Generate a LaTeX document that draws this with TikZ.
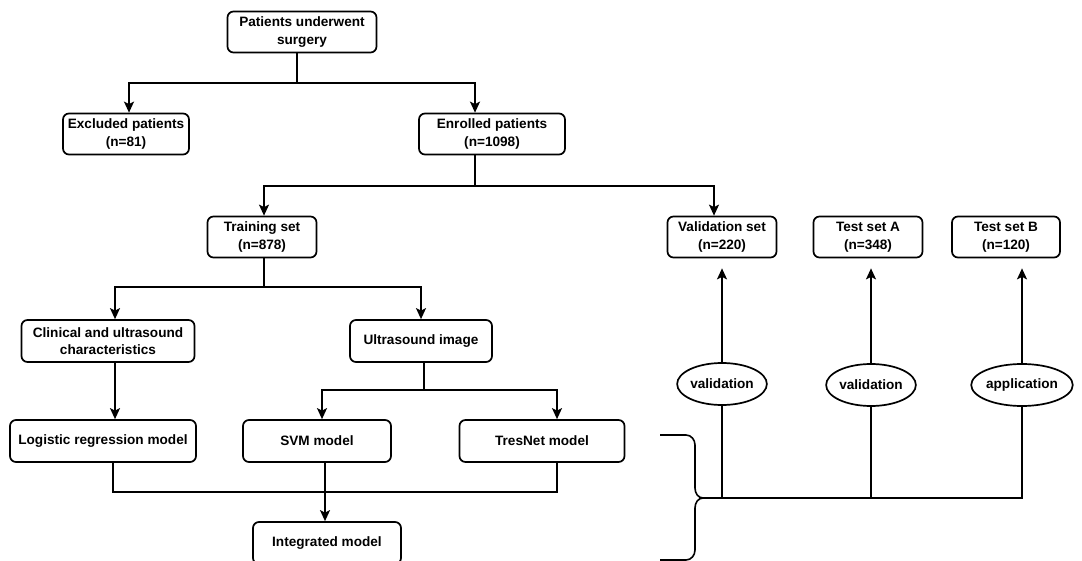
\documentclass[tikz,border=0pt]{standalone}
\usepackage{fontspec}
\setmainfont{Liberation Sans}
\usetikzlibrary{arrows.meta,shapes.geometric}
\tikzset{
  box/.style={draw, rounded corners=6pt, line width=1.7pt, align=center, inner sep=2pt, minimum height=41pt},
  tag/.style={draw, ellipse, line width=1.7pt, inner sep=0pt, minimum width=79pt, minimum height=42pt},
  link/.style={line width=1.6pt},
  arrow/.style={link, ->},
}
\begin{document}
\begin{tikzpicture}[x=1pt, y=-1pt, >={Stealth[length=11pt,width=10pt,inset=2.5pt]}, font=\fontsize{13.6}{17.5}\selectfont\bfseries]
  \useasboundingbox (0,0) rectangle (1082,561);
  % Kaesten
  \node[box, minimum width=149pt] (surgery) at (302,32) {Patients underwent\\surgery};
  \node[box, minimum width=126pt] (excluded) at (126,134) {Excluded patients\\(n=81)};
  \node[box, minimum width=146pt] (enrolled) at (492,134) {Enrolled patients\\(n=1098)};
  \node[box, minimum width=109pt] (training) at (262,237) {Training set\\(n=878)};
  \node[box, minimum width=109pt] (valset) at (722,237) {Validation set\\(n=220)};
  \node[box, minimum width=109pt] (testA) at (868,237) {Test set A\\(n=348)};
  \node[box, minimum width=108pt] (testB) at (1006,237) {Test set B\\(n=120)};
  \node[box, minimum width=173pt, minimum height=42pt] (clinical) at (108,341) {Clinical and ultrasound\\characteristics};
  \node[box, minimum width=142pt, minimum height=42pt] (usimage) at (421,341) {Ultrasound image};
  \node[box, minimum width=186pt, minimum height=42pt] (logistic) at (103,441) {Logistic regression model};
  \node[box, minimum width=148pt, minimum height=42pt] (svm) at (317,441) {SVM model};
  \node[box, minimum width=165pt, minimum height=42pt] (tresnet) at (542,441) {TresNet model};
  \node[box, minimum width=148pt, minimum height=42pt] (integrated) at (327,543) {Integrated model};
  % Ellipsen
  \node[tag] (val1) at (722,384) {validation};
  \node[tag] (val2) at (871,385) {validation};
  \node[tag, minimum width=75pt] (app) at (1022,385) {application};
  % Verzweigungen oben
  \coordinate (s1) at (297,83);
  \draw[link] (s1 |- surgery.south) -- (s1);
  \draw[arrow] (s1) -| (129,0 |- excluded.north);
  \draw[arrow] (s1) -| (475,0 |- enrolled.north);
  \coordinate (s2) at (475,186);
  \draw[link] (s2 |- enrolled.south) -- (s2);
  \draw[arrow] (s2) -| (264,0 |- training.north);
  \draw[arrow] (s2) -| (714,0 |- valset.north);
  \coordinate (s3) at (264,287);
  \draw[link] (s3 |- training.south) -- (s3);
  \draw[arrow] (s3) -| (115,0 |- clinical.north);
  \draw[arrow] (s3) -| (421,0 |- usimage.north);
  \draw[arrow] (115,0 |- clinical.south) -- (115,0 |- logistic.north);
  \coordinate (s4) at (424,390);
  \draw[link] (s4 |- usimage.south) -- (s4);
  \draw[arrow] (s4) -| (322,0 |- svm.north);
  \draw[arrow] (s4) -| (557,0 |- tresnet.north);
  % Zusammenfuehrung
  \coordinate (m1) at (325,492);
  \draw[link] (113,0 |- logistic.south) |- (m1) -| (557,0 |- tresnet.south);
  \draw[arrow] (325,0 |- svm.south) -- (325,0 |- integrated.north);
  % Klammer
  \coordinate (tip) at (703,498);
  \draw[link] (660,435) -- (686,435) to[out=0,in=90] (695,445) -- (695,488)
    to[out=-90,in=180] (tip) to[out=180,in=90] (695,508) -- (695,550)
    to[out=-90,in=0] (686,560) -- (660,560);
  \draw[link] (tip) -| (app.south);
  \draw[link] (val1.south) -- (val1.south |- tip);
  \draw[link] (val2.south) -- (val2.south |- tip);
  % Pfeile nach oben
  \draw[arrow, shorten >=10pt] (val1.north) -- (val1.north |- valset.south);
  \draw[arrow, shorten >=10pt] (val2.north) -- (val2.north |- testA.south);
  \draw[arrow, shorten >=10pt] (app.north) -- (app.north |- testB.south);
\end{tikzpicture}
\end{document}
